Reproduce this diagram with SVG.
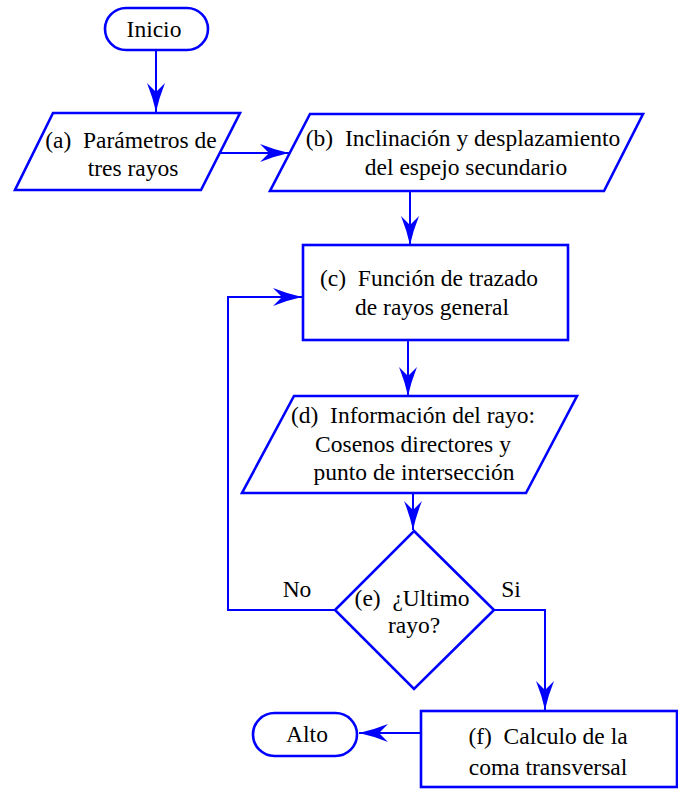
<svg xmlns="http://www.w3.org/2000/svg" width="678" height="789" viewBox="0 0 678 789">
<style>
.s{fill:#fff;stroke:#0000ff;stroke-width:2.6}
.c{fill:none;stroke:#0000ff;stroke-width:2}
text{font-family:'Liberation Serif','Times New Roman',serif;font-size:23.5px;fill:#000;text-anchor:middle;white-space:pre}
</style>
<defs>
<marker id="ah" markerUnits="userSpaceOnUse" markerWidth="34" markerHeight="24" viewBox="-31 -12 34 24" refX="0" refY="0" orient="auto">
<path d="M0,0 Q-14,-3 -29,-9 L-20,0 L-29,9 Q-14,3 0,0 Z" fill="#0000ff"/>
</marker>
</defs>
<g id="connectors">
<path class="c" d="M156,50 V112" marker-end="url(#ah)"/>
<path class="c" d="M220,153 H289" marker-end="url(#ah)"/>
<path class="c" d="M410,191 V245" marker-end="url(#ah)"/>
<path class="c" d="M408,341 V396" marker-end="url(#ah)"/>
<path class="c" d="M413,493 V530" marker-end="url(#ah)"/>
<path class="c" d="M335,610 H228 V297 H302" marker-end="url(#ah)"/>
<path class="c" d="M493,610 H545 V710" marker-end="url(#ah)"/>
<path class="c" d="M421,733 H359" marker-end="url(#ah)"/>
<text x="297" y="597">No</text>
<text x="511" y="597">Si</text>
</g>
<g id="inicio">
<rect class="s" x="105" y="8" width="103" height="42" rx="21"/>
<text x="154" y="37">Inicio</text>
</g>
<g id="a">
<polygon class="s" points="53,113 240,113 201,190 15,190"/>
<text x="131" y="148">(a)  Parámetros de</text>
<text x="133" y="176">tres rayos</text>
</g>
<g id="b">
<polygon class="s" points="310,114 643,114 604,191 270,191"/>
<text x="463" y="146">(b)  Inclinación y desplazamiento</text>
<text x="466" y="175">del espejo secundario</text>
</g>
<g id="c">
<rect class="s" x="303" y="245" width="265" height="95"/>
<text x="429" y="286">(c)  Función de trazado</text>
<text x="432" y="315">de rayos general</text>
</g>
<g id="d">
<polygon class="s" points="294,396 577,396 526,493 242,493"/>
<text x="413" y="423">(d)  Información del rayo:</text>
<text x="413" y="452">Cosenos directores y</text>
<text x="414" y="480">punto de intersección</text>
</g>
<g id="e">
<polygon class="s" points="414,531 494,610 414,689 335,610"/>
<text x="412" y="606">(e)  ¿Ultimo</text>
<text x="414" y="633">rayo?</text>
</g>
<g id="f">
<rect class="s" x="421" y="711" width="256" height="76"/>
<text x="548" y="744">(f)  Calculo de la</text>
<text x="548" y="775">coma transversal</text>
</g>
<g id="alto">
<rect class="s" x="253" y="713" width="104" height="43" rx="21.5"/>
<text x="307" y="742">Alto</text>
</g>
</svg>
